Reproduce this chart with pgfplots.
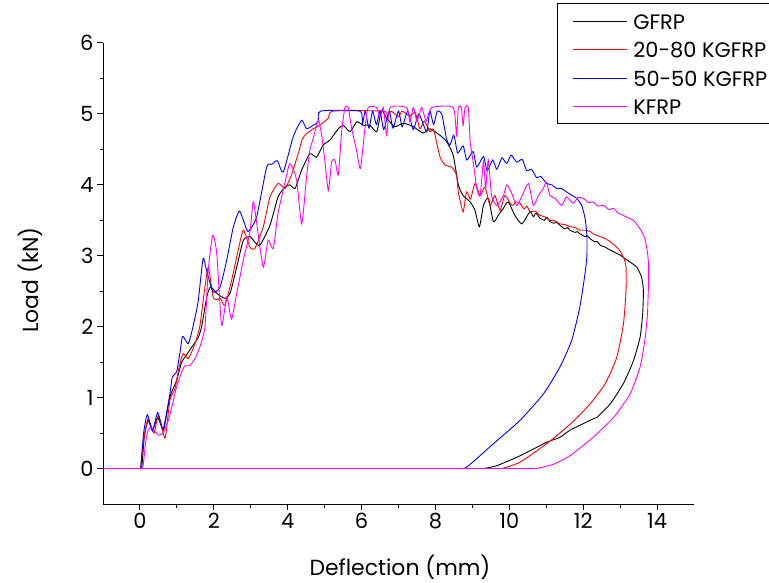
\documentclass[border=0pt]{standalone}
\usepackage{fontspec}
\setmainfont{Poppins}
\usepackage{pgfplots}
\pgfplotsset{compat=1.18}
\definecolor{mag}{RGB}{255,0,255}
\definecolor{rd}{RGB}{255,0,0}
\definecolor{bl}{RGB}{0,0,255}
\begin{document}
\begin{tikzpicture}
\useasboundingbox (0,0) rectangle (769bp,583bp);
\begin{axis}[
 at={(103bp,79bp)}, anchor=south west, scale only axis, width=591bp, height=461bp,
 xmin=-1, xmax=15, ymin=-0.5, ymax=6,
 axis x line*=bottom, axis y line*=left,
 axis line style={line width=1bp, -},
 xtick={0,2,...,14}, ytick={0,1,...,6}, minor x tick num=1, minor y tick num=1,
 tick align=outside, major tick length=6bp, minor tick length=3.5bp,
 every tick/.style={black, line width=1bp},
 tick label style={font=\fontsize{21}{24}\selectfont},
 /pgf/number format/assume math mode=true,
 xlabel={Deflection (mm)}, ylabel={Load (kN)},
 label style={font=\fontsize{22}{26}\selectfont},
 xlabel style={at={(axis description cs:0.5025,-0.137)}, anchor=center},
 ylabel style={at={(axis description cs:-0.1235,0.486)}, anchor=center},
 legend image code/.code={\draw[#1, line width=0.9bp, sharp plot] (0bp,0bp) -- (54bp,0bp); \path (60bp,0bp);},
 legend cell align=left,
 legend style={at={(axis description cs:0.7682,1.0868)}, anchor=north west, draw=black, line width=1bp,
   font=\fontsize{21}{26}\selectfont, inner xsep=15bp, inner ysep=5bp, row sep=3.5bp,
   nodes={inner sep=0bp, text height=21bp, text depth=4bp}},
 every axis plot/.append style={line width=0.9bp},
 curve/.style={smooth, tension=0.35},
]
\addplot[black, curve] coordinates {
(0,0) (0.05,0.02) (0.12,0.45) (0.22,0.68) (0.34,0.54) (0.48,0.72) (0.63,0.54) (0.72,0.75) (0.81,1.01) (0.99,1.24) (1.13,1.5) (1.26,1.6) (1.4,1.71) (1.58,1.85) (1.67,2.0) (1.81,2.42) (1.91,2.56) (2.08,2.47) (2.3,2.4) (2.44,2.47) (2.62,2.84) (2.8,3.22) (2.98,3.27) (3.1,3.2) (3.25,3.15) (3.52,3.43) (3.74,3.83) (3.93,3.97) (4.06,4.0) (4.2,3.95) (4.38,4.21) (4.6,4.44) (4.78,4.39) (4.96,4.56) (5.14,4.63) (5.37,4.79) (5.5,4.84) (5.69,4.75) (5.87,4.89) (6.05,4.84) (6.23,4.84) (6.41,4.75) (6.54,5.05) (6.68,4.94) (6.9,4.82) (7.13,4.87) (7.4,4.82) (7.67,4.73) (7.85,4.79) (8.12,4.7) (8.3,4.61) (8.48,4.42) (8.62,4.0) (8.75,3.85) (8.94,3.76) (9.07,3.64) (9.19,3.41) (9.3,3.71) (9.43,3.81) (9.57,3.48) (9.7,3.57) (9.84,3.67) (9.97,3.76) (10.15,3.57) (10.34,3.45) (10.56,3.62) (10.65,3.55) (10.72,3.6) (10.83,3.53) (10.95,3.5) (11.02,3.54) (11.1,3.48) (11.2,3.46) (11.28,3.47) (11.37,3.43) (11.5,3.38) (11.58,3.4) (11.64,3.36) (11.78,3.33) (11.85,3.34) (11.91,3.31) (12.05,3.27) (12.12,3.28) (12.19,3.24) (12.3,3.2) (12.38,3.2) (12.46,3.15) (12.6,3.12) (12.73,3.08) (12.85,3.05) (13.0,3.01) (13.13,2.96) (13.3,2.9) (13.45,2.84) (13.58,2.7) (13.63,2.51) (13.61,2.18) (13.54,1.85) (13.36,1.52) (13.09,1.2) (12.73,0.91) (12.37,0.72) (12.27,0.7) (11.91,0.61) (11.64,0.54) (11.37,0.44) (11.01,0.37) (10.29,0.18) (9.66,0.04) (9.3,0)
};
\addlegendentry{GFRP}
\addplot[black, forget plot] coordinates {(-1,0) (9.3,0)};
\addplot[rd, curve] coordinates {
(0.02,0) (0.1,0.4) (0.22,0.7) (0.38,0.5) (0.5,0.75) (0.68,0.43) (0.81,0.96) (0.95,1.13) (1.06,1.43) (1.17,1.62) (1.31,1.55) (1.49,1.76) (1.62,2.0) (1.72,2.4) (1.85,2.84) (1.98,2.42) (2.1,2.38) (2.18,2.4) (2.3,2.3) (2.48,2.65) (2.66,3.08) (2.8,3.36) (2.98,3.12) (3.11,3.1) (3.34,3.41) (3.52,3.83) (3.74,4.02) (3.93,3.95) (4.11,4.15) (4.29,4.45) (4.4,4.65) (4.51,4.72) (4.69,4.79) (4.87,4.84) (5.1,4.94) (5.23,5.04) (6.59,5.04) (6.7,4.97) (6.8,5.04) (7.0,4.96) (7.1,5.04) (7.3,4.97) (7.45,5.02) (7.58,4.79) (7.7,4.9) (7.85,4.75) (7.95,4.78) (8.12,4.4) (8.26,4.28) (8.44,4.25) (8.57,4.14) (8.62,3.9) (8.75,3.62) (8.84,3.9) (8.95,3.8) (9.07,4.02) (9.21,3.85) (9.34,3.97) (9.48,3.71) (9.61,3.85) (9.75,3.64) (9.88,3.85) (10.07,3.71) (10.18,3.76) (10.29,3.74) (10.4,3.66) (10.48,3.7) (10.56,3.62) (10.7,3.63) (10.83,3.57) (10.95,3.55) (11.1,3.5) (11.2,3.5) (11.37,3.45) (11.5,3.44) (11.64,3.41) (11.78,3.4) (11.91,3.36) (12.05,3.36) (12.19,3.34) (12.3,3.3) (12.46,3.27) (12.6,3.24) (12.73,3.2) (12.95,3.1) (13.09,2.98) (13.16,2.84) (13.16,2.51) (13.09,2.04) (12.91,1.57) (12.6,1.2) (12.2,0.92) (11.7,0.65) (11.06,0.37) (10.29,0.09) (9.8,0)
};
\addlegendentry{20-80 KGFRP}
\addplot[rd, forget plot] coordinates {(-1,0) (9.8,0)};
\addplot[bl, curve] coordinates {
(0.02,0) (0.1,0.5) (0.2,0.76) (0.34,0.53) (0.48,0.79) (0.63,0.56) (0.81,1.05) (0.875,1.29) (0.99,1.36) (1.08,1.62) (1.15,1.86) (1.22,1.82) (1.31,1.76) (1.4,1.92) (1.5,2.15) (1.58,2.37) (1.71,2.96) (1.8,2.8) (1.98,2.49) (2.17,2.56) (2.35,2.94) (2.53,3.41) (2.69,3.63) (2.8,3.5) (2.93,3.34) (3.16,3.55) (3.43,4.25) (3.57,4.29) (3.72,4.34) (3.88,4.18) (4.15,4.68) (4.38,4.91) (4.51,4.79) (4.69,4.84) (4.83,4.89) (4.89,5.04) (5.95,5.04) (6.02,4.85) (6.1,5.04) (6.2,4.8) (6.3,5.04) (6.4,4.85) (6.5,5.04) (6.6,4.78) (6.75,5.04) (6.85,4.8) (7.0,5.04) (7.1,4.82) (7.25,5.04) (7.4,4.78) (7.55,5.0) (7.76,4.75) (7.85,5.04) (7.95,4.85) (8.05,5.04) (8.17,5.0) (8.3,4.65) (8.39,4.56) (8.5,4.7) (8.6,4.45) (8.75,4.55) (8.85,4.35) (9.02,4.47) (9.12,4.25) (9.3,4.4) (9.4,4.2) (9.55,4.35) (9.66,4.22) (9.8,4.38) (9.93,4.3) (10.05,4.42) (10.2,4.32) (10.35,4.36) (10.47,4.2) (10.6,4.22) (10.74,4.1) (10.85,4.12) (11.01,4.02) (11.15,4.0) (11.28,3.95) (11.4,3.95) (11.55,3.9) (11.7,3.85) (11.82,3.81) (11.96,3.71) (12.05,3.53) (12.1,3.29) (12.1,3.0) (12.05,2.75) (11.91,2.28) (11.69,1.81) (11.37,1.43) (10.92,1.05) (10.29,0.68) (9.57,0.35) (8.85,0.02) (8.67,0)
};
\addlegendentry{50-50 KGFRP}
\addplot[bl, forget plot] coordinates {(-1,0) (8.67,0)};
\addplot[mag, curve] coordinates {
(0.05,0) (0.09,0.05) (0.15,0.35) (0.22,0.54) (0.32,0.58) (0.5,0.47) (0.63,0.51) (0.77,0.68) (0.88,0.9) (0.99,1.15) (1.13,1.36) (1.22,1.45) (1.35,1.45) (1.49,1.55) (1.62,1.71) (1.76,2.0) (1.85,2.8) (1.97,3.29) (2.08,3.03) (2.21,2.02) (2.35,2.42) (2.48,2.11) (2.62,2.47) (2.8,2.94) (2.98,3.34) (3.07,3.76) (3.2,3.31) (3.34,2.84) (3.47,3.22) (3.61,3.1) (3.74,3.6) (3.93,4.04) (4.06,4.3) (4.24,4.07) (4.38,3.45) (4.51,4.11) (4.6,4.49) (4.69,4.65) (4.83,4.91) (4.92,4.7) (5.01,4.32) (5.1,3.92) (5.19,4.32) (5.28,4.35) (5.37,4.14) (5.46,4.75) (5.55,5.09) (5.64,5.09) (5.73,4.8) (5.87,4.47) (5.97,4.23) (6.09,4.79) (6.18,5.09) (6.41,5.09) (6.5,4.95) (6.59,5.09) (6.68,4.7) (6.77,5.09) (7.22,5.09) (7.31,4.89) (7.4,5.09) (7.5,4.9) (7.63,5.09) (7.75,4.9) (7.9,5.09) (8.48,5.09) (8.57,4.7) (8.62,5.09) (8.7,5.09) (8.75,4.84) (8.8,5.09) (8.89,5.09) (8.94,4.61) (9.02,4.33) (9.12,3.95) (9.21,3.85) (9.3,4.33) (9.36,3.95) (9.43,4.35) (9.52,3.85) (9.66,3.71) (9.84,3.85) (9.93,4.0) (10.05,3.9) (10.2,3.71) (10.35,3.85) (10.52,4.02) (10.65,3.71) (10.79,3.85) (10.92,3.95) (11.01,4.04) (11.1,3.85) (11.24,3.81) (11.42,3.71) (11.55,3.83) (11.73,3.74) (11.85,3.82) (12.0,3.81) (12.15,3.75) (12.27,3.76) (12.4,3.7) (12.55,3.71) (12.7,3.65) (12.82,3.67) (12.95,3.6) (13.09,3.57) (13.23,3.53) (13.36,3.5) (13.54,3.38) (13.67,3.24) (13.74,3.05) (13.77,2.87) (13.77,2.65) (13.74,2.18) (13.67,1.81) (13.54,1.43) (13.27,1.05) (12.82,0.72) (12.27,0.44) (11.64,0.18) (11.19,0.06) (10.74,0)
};
\addlegendentry{KFRP}
\addplot[mag, forget plot] coordinates {(-1,0) (10.74,0)};
\end{axis}
\end{tikzpicture}
\end{document}
